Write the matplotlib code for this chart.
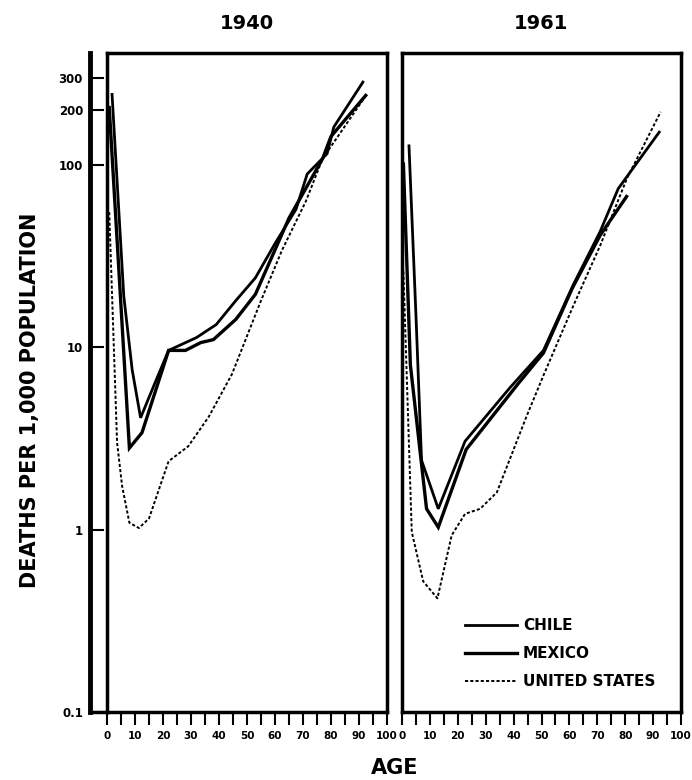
import matplotlib
matplotlib.use("Agg")
import matplotlib.pyplot as plt
from matplotlib.ticker import NullLocator, MultipleLocator

plt.rcParams['font.family'] = ['DejaVu Sans']
plt.rcParams['font.weight'] = 'bold'

# 1940 (age, deaths per 1,000 population)
chile_1940_age = [1.8, 6, 9, 12, 17, 22, 32, 39, 46, 53, 60, 67.5, 71.5, 78.6, 81, 91.4]
chile_1940_rate = [243, 19, 7.5, 4.1, 6.3, 9.6, 11.3, 13.3, 18, 24, 37, 57, 89, 115, 161, 284]

mexico_1940_age = [0.8, 8, 12.5, 22, 28, 33.5, 38, 46, 53, 65, 77, 80, 92.4]
mexico_1940_rate = [206, 2.8, 3.4, 9.6, 9.6, 10.6, 11, 14.2, 19.5, 51, 108, 143, 240]

us_1940_age = [0.8, 3.6, 5.4, 8, 11.4, 15, 18.6, 22, 29, 36.4, 44.6, 55, 62.5, 71, 77, 92.5]
us_1940_rate = [55, 3.0, 1.73, 1.09, 1.02, 1.15, 1.67, 2.37, 2.86, 4.17, 7.1, 18, 34, 63, 108, 240]

# 1961
chile_1961_age = [2.5, 5, 7, 13, 22.6, 38.7, 50.7, 61.4, 71, 77.5, 92.2]
chile_1961_rate = [127, 15, 2.4, 1.3, 3.05, 6.0, 9.6, 22, 43, 74, 151]

mexico_1961_age = [0.5, 3, 8.8, 13, 23, 41.6, 50.7, 61, 71, 80.5]
mexico_1961_rate = [101, 8, 1.3, 1.03, 2.75, 6.3, 9.3, 21, 41, 67]

us_1961_age = [0.5, 3.5, 7.6, 12.7, 17.8, 22.6, 28, 34, 44.7, 50.7, 61.5, 71, 80.6, 92.7]
us_1961_rate = [26, 0.97, 0.52, 0.42, 0.93, 1.22, 1.3, 1.6, 4.2, 7.0, 17, 36, 84, 195]

y_ticks = [0.1, 1, 10, 100, 200, 300]
y_labels = ['0.1', '1', '10', '100', '200', '300']
ylim = (0.1, 410)

W, H = 692, 780
fig = plt.figure(figsize=(W / 100, H / 100), dpi=100)

bottom = 1 - 712 / H
height = (712 - 53) / H

# separate y axis at the far left
yax = fig.add_axes([90 / W, bottom, 17 / W, height])
yax.set_yscale('log')
yax.set_ylim(*ylim)
yax.set_xticks([])
yax.yaxis.set_minor_locator(NullLocator())
yax.set_yticks(y_ticks)
yax.set_yticklabels(y_labels, fontsize=8.5, fontweight='bold')
yax.tick_params(axis='y', direction='in', length=10, width=1.5, pad=5)
for s in ['top', 'right']:
    yax.spines[s].set_visible(False)
yax.spines['left'].set_linewidth(3.5)
yax.spines['bottom'].set_linewidth(2.5)
yax.patch.set_alpha(0)

ax1 = fig.add_axes([107 / W, bottom, 280 / W, height])
ax2 = fig.add_axes([402 / W, bottom, 279 / W, height])

data = [
    (ax1, '1940', chile_1940_age, chile_1940_rate, mexico_1940_age, mexico_1940_rate, us_1940_age, us_1940_rate),
    (ax2, '1961', chile_1961_age, chile_1961_rate, mexico_1961_age, mexico_1961_rate, us_1961_age, us_1961_rate),
]

for ax, year, ca, cr, ma, mr, ua, ur in data:
    ax.plot(ca, cr, color='black', lw=2.0, label='CHILE', solid_joinstyle='miter')
    ax.plot(ma, mr, color='black', lw=2.4, label='MEXICO', solid_joinstyle='miter')
    ax.plot(ua, ur, color='black', lw=1.4, linestyle=(0, (1.6, 1.1)), label='UNITED STATES')
    ax.set_yscale('log')
    ax.set_ylim(*ylim)
    ax.set_xlim(0, 100)
    ax.yaxis.set_minor_locator(NullLocator())
    ax.set_yticks([])
    ax.xaxis.set_major_locator(MultipleLocator(10))
    ax.xaxis.set_minor_locator(MultipleLocator(5))
    ax.tick_params(axis='x', which='both', direction='out', length=9, width=1.5, pad=5, labelsize=7.5)
    for lab in ax.get_xticklabels():
        lab.set_fontweight('bold')
    for s in ax.spines.values():
        s.set_linewidth(2.5)
    ax.set_title(year, fontsize=14, fontweight='bold', pad=17)

ax2.legend(loc='upper left', bbox_to_anchor=(465 / W, 1 - 618 / H), bbox_transform=fig.transFigure,
           frameon=False, handlelength=3.4, handletextpad=0.4, labelspacing=0.85,
           borderpad=0, borderaxespad=0, prop=dict(weight='bold', size=11))

fig.text(30 / W, 1 - 400 / H, 'DEATHS PER 1,000 POPULATION', rotation=90, ha='center', va='center',
         fontsize=15, fontweight='bold')
fig.text(395 / W, 1 - 768 / H, 'AGE', ha='center', va='center', fontsize=15, fontweight='bold')

fig.savefig('out.png', dpi=100)
